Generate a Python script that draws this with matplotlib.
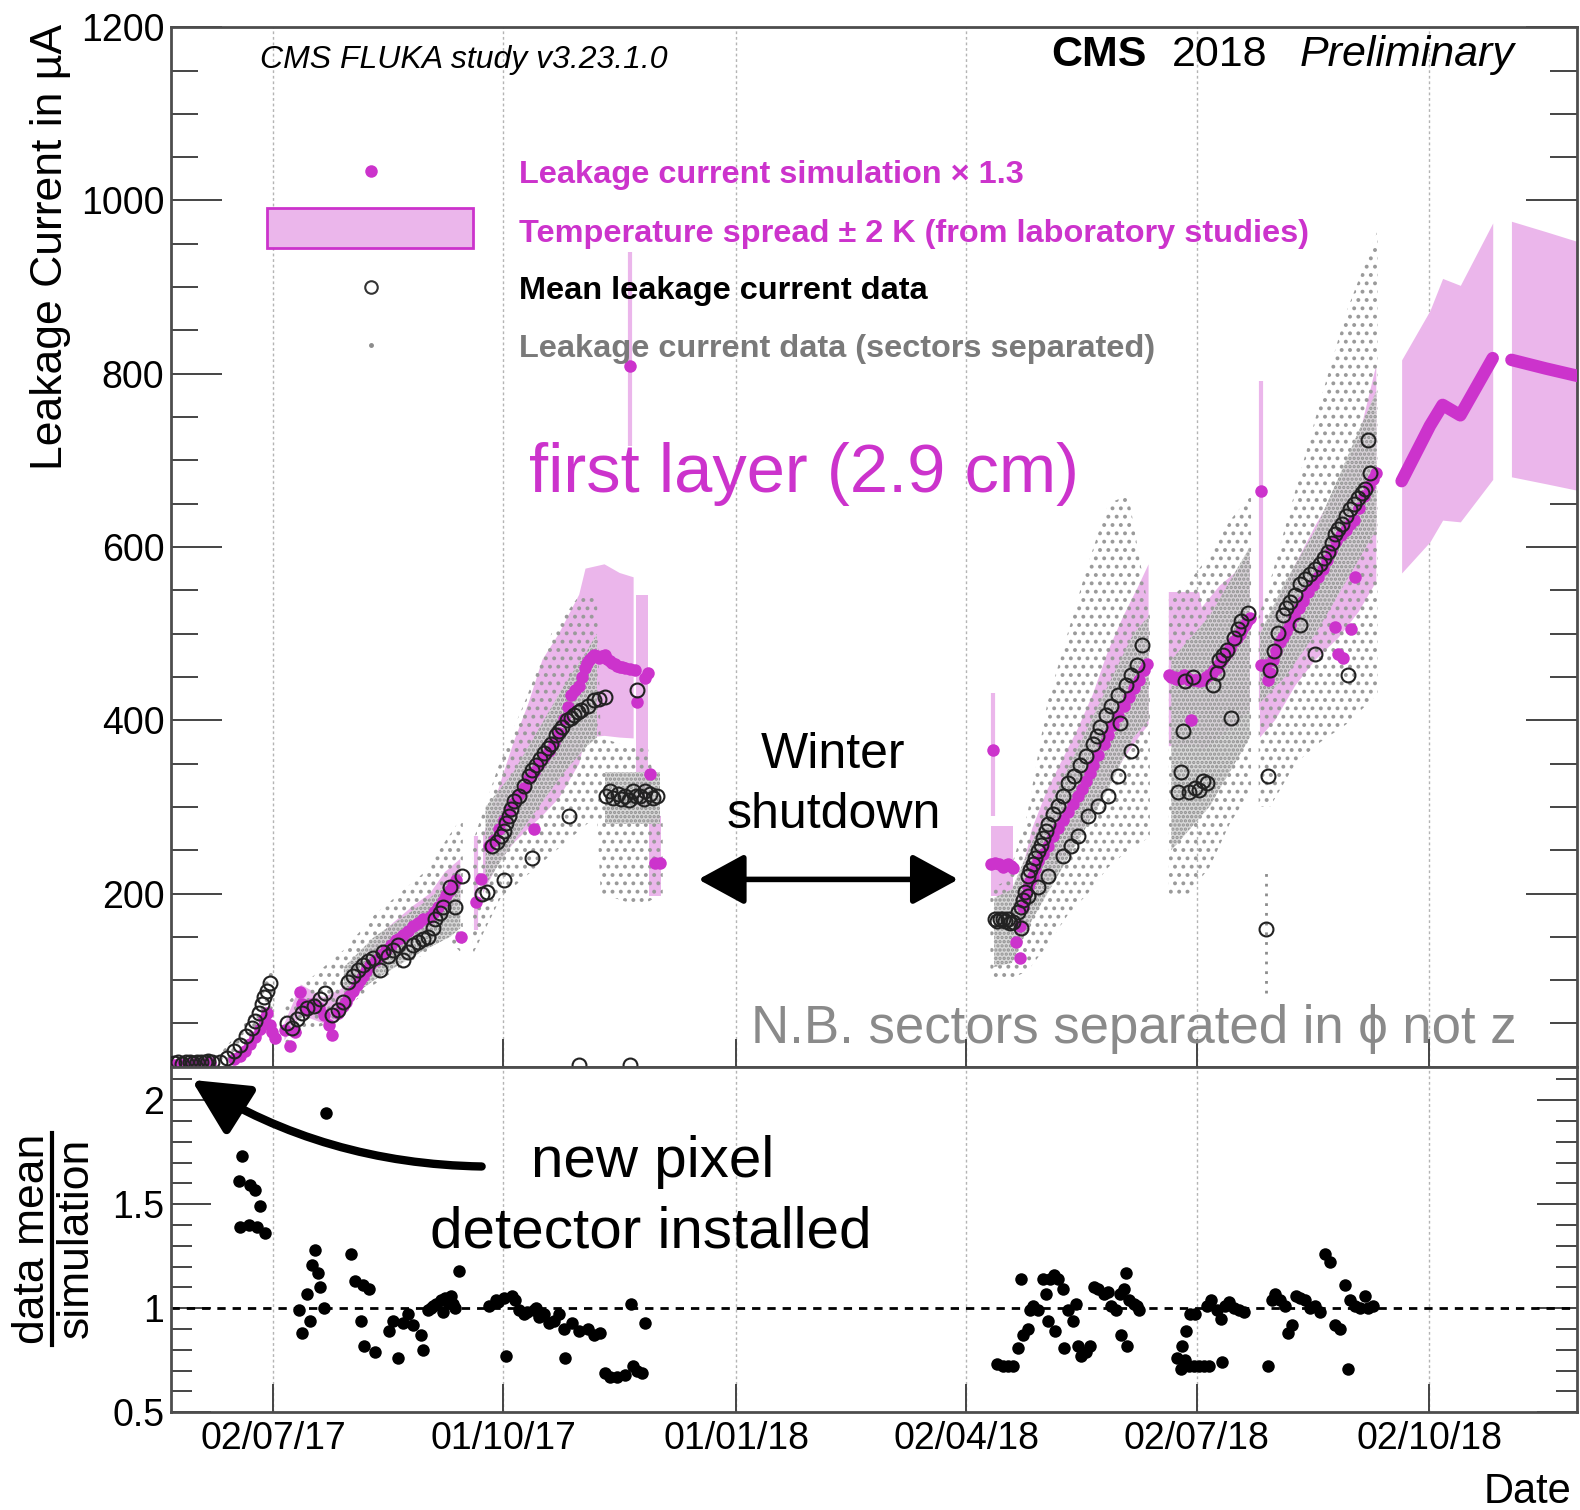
import numpy as np
import matplotlib
matplotlib.use("Agg")
import matplotlib.pyplot as plt
import matplotlib.dates as mdates
from matplotlib.ticker import MultipleLocator, FixedLocator
from matplotlib.patches import FancyArrowPatch, Rectangle
from matplotlib.lines import Line2D

plt.rcParams['font.family'] = ['Liberation Sans', 'DejaVu Sans']
plt.rcParams['hatch.linewidth'] = 1.6

MAGENTA = '#cc33cc'
PINK = '#ebb6eb'
GREY = '#8c8c8c'
nan = np.nan

# all x values are days after 02/07/2017
T0 = mdates.date2num(np.datetime64('2017-07-02'))
X_MIN, X_MAX = -40.2, 515.3
tick_dates = ['2017-07-02', '2017-10-01', '2018-01-01', '2018-04-02', '2018-07-02', '2018-10-02']

# simulation x 1.3 (magenta dots)
sim_days = [-39, -37, -35, -33, -31, -29, -27, -25,
            -15.5, -13, -11, -9, -7, -5.2, -3.6, -2.4, -1.2, -0.4, 0.8,
            4.8, 6.8, 8.8, 10.8, 11.5, 13.5, 15.5, 18, 20, 22.3, 23.5, 25.5, 27.5,
            28.7, 30, 31.5, 33, 34.2, 35.5, 36.6, 38.5, 40.6, 42.6, 44.6, 46.6, 48.6, 50, 51.4,
            53.4, 55.4, 57.3, 59.3, 62.1, 63.7, 65.3, 67, 68.5, 70, 71.3, 72.5, 74.1, 80.4, 82,
            85.2, 87.2, 89.2, 91.2, 93.2, 95.2, 97.2, 99.2, 101.2, 103.1, 103.2, 105.1, 107.1,
            109.1, 111.1, 113.1, 115.1, 116.5, 117.9, 119.5, 121.1, 122, 123.1, 124, 125, 126,
            127, 128, 129, 130, 131, 132, 133, 134, 135, 136, 137, 138, 139, 141, 143, 143.8,
            147, 148, 148.9, 150.9, 152.9, 141,
            283.8, 285.5, 287, 288.3, 289.5, 290.3, 291.5, 292.3, 293.5, 295, 295.1, 296.3,
            297.2, 298.3, 299.3, 300.3, 301.3, 302.3, 304.3, 306.3, 308.2, 310.2, 312.2, 314.2,
            316.2, 318.2, 319.8, 321.4, 322.8, 324.2, 326.2, 328.2, 330.1, 332.1, 334.1, 336.1,
            338.1, 340.1, 342.1, 344.1, 345.3, 284.7,
            354, 355, 356, 357, 358, 359, 360, 361, 362, 362.8, 364, 365, 366, 367.5, 368.8,
            370, 371.2, 372, 373, 374, 375, 376, 377, 378, 379.5, 381, 382, 383, 384, 385, 385.9,
            390.5, 392, 393, 394, 395, 396.5, 398, 399, 400.5, 402, 403.5, 405.5, 407, 409, 411,
            413, 415, 416.5, 418, 420, 422, 424, 425.5, 427, 429, 431, 433, 434.5, 435.7,
            419.5, 426, 421, 423, 427.7, 390.3]
sim_vals = [2, 3, 2, 3, 3, 3, 3, 4,
            9, 13, 18, 26, 34, 44, 55, 62, 48, 40, 33,
            42, 24, 40, 86, 72, 65, 72, 68, 60, 48, 37, 62, 70,
            75, 82, 88, 94, 100, 105, 110, 117, 123, 129, 135, 141, 146, 149, 152,
            157, 162, 166, 170, 173, 179, 185, 191, 198, 204, 210, 216, 150, 190, 217,
            255, 262, 275, 285, 295, 305, 315, 322, 333, 274, 340, 350, 357,
            365, 375, 385, 402, 415, 429, 435, 440, 450, 460, 466, 470, 473,
            475, 474, 472, 474, 475, 471, 468, 466, 465, 463, 462, 461, 460, 459, 458, 421,
            449, 455, 338, 235, 235, 809,
            234, 235, 234, 231, 233, 234, 232, 229, 144, 125, 162, 185,
            197, 208, 214, 220, 228, 237, 246, 255, 266, 276, 285, 294,
            303, 313, 321, 330, 339, 348, 360, 373, 383, 394, 405, 417,
            427, 437, 447, 458, 465, 366,
            452, 450, 450, 448, 448, 450, 452, 449, 446, 400, 447, 446, 445, 447, 450,
            452, 455, 458, 460, 465, 470, 474, 478, 483, 490, 495, 500, 505, 510, 514, 518,
            464, 464, 447, 455, 470, 480, 490, 496, 503, 510, 520, 529, 538, 548, 556,
            565, 575, 585, 595, 607, 614, 620, 626, 631, 645, 659, 670, 678, 685,
            508, 505, 477, 472, 565, 665]

# temperature spread band
band_days = [-14, -7, -3, 1, nan,
             4.5, 11, 20, 27, 35, 45, 55, 62, 68, 74, nan,
             83, 89, 95, 101, 106.5, 113, 121, 123.5, 131, 137, 142.5, nan,
             143.5, 148, nan, 148.5, 153.5, nan, 283.8, 292.5, nan,
             293, 300, 306, 312, 318, 324, 330, 336, 342, 346, nan,
             354, 366, 367, 374, 380, 386, nan,
             390, 396, 404, 412, 421, 429, 436]
band_lo = [8, 25, 40, 25, nan,
           30, 60, 50, 55, 90, 120, 145, 155, 175, 190, nan,
           200, 235, 258, 275, 290, 310, 350, 380, 382, 380, 379, nan,
           300, 300, nan, 197, 197, nan, 197, 197, nan,
           125, 185, 215, 240, 265, 295, 325, 355, 380, 395, nan,
           370, 372, 365, 380, 395, 410, nan,
           380, 400, 440, 470, 495, 525, 560]
band_hi = [16, 40, 70, 40, nan,
           50, 95, 80, 90, 125, 160, 185, 200, 225, 240, nan,
           266, 320, 374, 420, 470, 500, 545, 575, 580, 570, 565, nan,
           545, 545, nan, 290, 290, nan, 278, 278, nan,
           190, 275, 320, 355, 390, 430, 480, 520, 555, 580, nan,
           548, 548, 530, 555, 570, 590, nan,
           480, 530, 580, 625, 670, 725, 810]
spike_days = [80.4, 141, 284.7, 390.3]
spike_lo = [158, 717, 290, 412]
spike_hi = [266, 940, 431, 792]

# prediction after the data
pred1_days = [446.0, 457.2, 462.2, 469.2, 482.0]
pred1_vals = [676, 740, 764, 752, 818]
pred1_lo = [570, 606, 631, 629, 678]
pred1_hi = [816, 873, 910, 902, 974]
pred2_days = [489.4, 503.0, 516.2]
pred2_vals = [816, 806, 797]
pred2_lo = [681, 673, 665]
pred2_hi = [976, 964, 952]

# mean leakage current data (open circles)
mean_days = [-39, -37.5, -36, -34.5, -33, -31.5, -30, -28.5, -27, -25.5, -24,
             -21, -18, -15.5, -13, -10.5, -8.5, -7, -5.5, -4.4, -3.5, -2.4, -1.2,
             5.6, 7.6, 9.6, 11.5, 13.5, 16, 18.7, 20.7, 23.5, 25.5, 27.5,
             29.5, 31.5, 33.5, 35.4, 37.4, 39.4, 42.2, 43.4, 45.5, 47.4, 49.4, 51.4, 53.4,
             55.5, 57.3, 59.3, 61.3, 63.3, 64.1, 66, 67.3, 70.1, 72.1, 74.5,
             82.4, 84.4, 86.4, 88.4, 90, 91.2, 92.2, 93.2, 94.2, 95.2, 97.2, 99.2, 101.2, 102.5,
             103.9, 105.5, 107.1, 108.5, 109.9, 111.9, 113, 114.3, 116.3, 117.8, 119.1, 120.5,
             121.9, 124.3, 127, 129, 131, 143.8, 91.2, 102.3, 117.1,
             131.5, 133, 134.5, 136.2, 137.5, 139, 140.5, 142.2, 143.5, 145, 146.5, 147, 148.9,
             150.3, 151.7, 121.1, 141,
             285.5, 286.3, 287.3, 288.3, 289.3, 290.3, 291.3, 292.3, 294.3, 295.5, 296.2, 297.1,
             298.3, 299.3, 300.3, 301.3, 302.3, 303.3, 304.3, 305.3, 306.3, 308.2, 310.2, 312.2,
             314.2, 316.6, 319, 321.4, 324.2, 325.6, 327, 329.3, 331.3, 334.1, 336.9, 338.9,
             341.3, 343.3,
             295.5, 298.3, 302.3, 306.3, 312.2, 315.4, 318.2, 322.2, 326.2, 330.1, 334.1, 338.9, 334.9,
             357.6, 359, 359.5, 360.4, 362, 363.5, 364.5, 366, 367.5, 369.2, 371.6, 373, 374,
             375.5, 377.1, 378.7, 379.9, 381.3, 382.7, 385.1,
             392.3, 393.1, 393.9, 395.5, 397.1, 399.1, 400.5, 401.8, 403.8, 405.8, 407.8, 409.8,
             411.8, 413.8, 415.5, 417, 418.5, 419.8, 421, 422.5, 424, 425.7, 427.3, 428.9, 430.3,
             431.7, 433.7, 432.9, 405.8, 411.8, 424.9]
mean_vals = [4, 5, 3, 5, 6, 4, 5, 6, 5, 7, 6,
             5, 10, 18, 25, 35, 45, 53, 62, 72, 80, 88, 97,
             50, 45, 55, 62, 68, 70, 78, 85, 60, 65, 75,
             98, 105, 112, 117, 122, 125, 112, 133, 128, 135, 141, 123, 133,
             140, 144, 147, 150, 160, 171, 178, 185, 208, 185, 220,
             199, 202, 255, 260, 266, 272, 281, 290, 298, 307, 313, 324, 336, 342,
             348, 355, 362, 368, 373, 383, 388, 392, 400, 403, 406, 409,
             412, 417, 423, 425, 427, 435, 216, 241, 290,
             313, 318, 310, 315, 309, 313, 308, 318, 312, 313, 309, 318, 315,
             310, 313, 2, 2,
             170, 168, 171, 170, 168, 170, 166, 167, 179, 185, 193, 202,
             220, 227, 234, 241, 249, 256, 264, 272, 280, 292, 301, 313,
             327, 336, 348, 359, 373, 382, 392, 406, 417, 429, 441, 452,
             464, 487,
             160, 197, 208, 220, 243, 255, 266, 290, 301, 313, 336, 365, 397,
             317, 340, 388, 445, 317, 450, 322, 320, 330, 327, 441, 455, 470,
             475, 481, 403, 495, 505, 515, 524,
             159, 336, 458, 480, 501, 522, 530, 536, 545, 557, 563, 569,
             575, 580, 587, 594, 605, 615, 621, 627, 636, 644, 650, 656, 662,
             667, 685, 723, 510, 476, 452]

# sector-separated data: overall spread and dense core
gray_days = [-40, -22, -14, -8, -3, 0.5, nan,
             4.5, 12, 22, 28, 40, 50, 60, 68, 75, nan,
             79, 90, 100, 110, 120, 128, 129.5, 140, 148, 154, nan,
             283.5, 290, 298, 306, 314, 322, 330, 338, 346.5, nan,
             354, 362, 370, 378, 386.5, nan,
             389.5, 394, 404, 414, 424, 436.5]
gray_lo = [0, 0, 12, 30, 55, 70, nan,
           25, 40, 50, 65, 95, 115, 130, 150, 130, nan,
           130, 195, 220, 245, 270, 290, 200, 190, 190, 200, nan,
           100, 100, 110, 140, 175, 200, 230, 250, 265, nan,
           195, 200, 230, 280, 320, nan,
           300, 300, 350, 375, 395, 430]
gray_hi = [8, 12, 38, 65, 100, 120, nan,
           70, 95, 120, 135, 175, 200, 225, 260, 290, nan,
           260, 355, 425, 500, 540, 545, 380, 370, 370, 280, nan,
           205, 215, 290, 420, 500, 580, 650, 660, 520, nan,
           540, 560, 590, 630, 660, nan,
           520, 560, 665, 770, 870, 965]
core_days = [28, 40, 50, 60, 70, 74, nan,
             84, 95, 105, 115, 124, 128, nan, 131, 153, nan,
             285, 292, 300, 310, 320, 330, 340, 346, nan,
             355, 370, 386, nan, 390, 400, 412, 424, 436]
core_lo = [75, 100, 118, 135, 150, 160, nan,
           210, 260, 300, 340, 370, 380, nan, 280, 280, nan,
           115, 120, 170, 220, 270, 320, 380, 400, nan,
           250, 300, 380, nan, 420, 450, 500, 560, 620]
core_hi = [115, 150, 170, 190, 215, 230, nan,
           300, 340, 390, 440, 480, 500, nan, 340, 340, nan,
           195, 205, 260, 320, 380, 440, 500, 520, nan,
           470, 520, 600, nan, 500, 560, 620, 700, 780]
gray_line_days = [392.3]
gray_line_lo = [85]
gray_line_hi = [230]

# data mean / simulation
ratio_days = [-13.9, -12.3, -13.5, -9.2, -7.2, -5.2, -13.1, -9.6, -6.4, -3.2,
              21.1, 10.4, 11.5, 13.5, 15.5, 16.7, 17.9, 18.7, 20.3, 14.7,
              30.7, 32.3, 35.4, 37.8, 34.6, 35.8, 40.2, 45.8, 47.4, 49.4, 51.4, 53.4, 55.4,
              58.5, 59.3, 61.3, 63.3, 66.5, 69.3, 72.1, 73.3, 70.5, 67.3,
              85.2, 88.0, 91.2, 94.4, 97.2, 92.0, 99.2, 103.1, 105.1, 107.1, 109.1, 111.1,
              113.1, 115.1, 115.5, 118.3, 121.1, 124.3, 127.0, 129.4, 131.0, 133.0, 135.8,
              139.0, 141.4, 142.2, 143.8, 145.8, 147.0,
              62.5, 64.5, 68, 71, 89, 95.5, 100.5, 104,
              286.3, 288.3, 290.3, 292.3, 294.3, 295.5, 296.3, 298.3, 299.1, 300.3, 302.3,
              304.3, 305.5, 307.0, 308.6, 310.2, 312.2, 312.6, 306.3, 309.0, 314.2, 316.2,
              317.4, 318.2, 319.4, 321.4, 323.0, 324.6, 326.2, 328.2, 330.1, 331.3, 333.3,
              334.9, 336.1, 336.9, 338.1, 340.1, 341.3, 335.3, 337.3, 342.1,
              357.2, 358.8, 360.4, 362.0, 364.0, 366.0, 368.0, 370.0, 359.2, 360.8, 362.4,
              364.4, 369.2, 370.8, 373.2, 374.8, 376.4, 377.9, 379.9, 381.9, 383.9, 375.2,
              393.1, 394.7, 395.9, 397.9, 399.9, 401.0, 402.6, 404.2, 405.8, 407.8, 409.8,
              411.8, 413.8, 415.8, 417.8, 419.8, 421.7, 423.7, 425.7, 424.9, 427.7, 429.7,
              431.7, 432.9, 434.5]
ratio_vals = [2.02, 1.73, 1.61, 1.59, 1.57, 1.49, 1.39, 1.40, 1.39, 1.36,
              1.94, 0.99, 0.88, 1.07, 1.21, 1.28, 1.17, 1.10, 1.00, 0.94,
              1.26, 1.13, 1.11, 1.09, 0.94, 0.82, 0.79, 0.89, 0.94, 0.76, 0.93, 0.97, 0.92,
              0.87, 0.80, 0.99, 1.01, 1.04, 1.03, 1.00, 1.18, 1.06, 0.98,
              1.01, 1.04, 1.05, 1.06, 0.99, 0.77, 0.97, 0.99, 0.96, 0.97, 0.93, 0.94,
              0.97, 0.90, 0.76, 0.93, 0.89, 0.90, 0.87, 0.88, 0.69, 0.67, 0.67,
              0.68, 1.02, 0.72, 0.70, 0.69, 0.93,
              1.00, 1.02, 1.05, 1.02, 1.03, 1.04, 0.98, 1.00,
              0.73, 0.72, 0.72, 0.72, 0.81, 1.14, 0.87, 0.90, 0.99, 1.01, 0.99,
              1.14, 1.07, 1.14, 1.16, 1.14, 1.09, 0.81, 0.94, 0.89, 0.99, 0.94,
              1.02, 0.82, 0.77, 0.79, 0.82, 1.10, 1.09, 1.07, 1.08, 1.01, 0.99,
              1.07, 1.09, 1.17, 1.04, 1.02, 1.01, 0.87, 0.82, 0.99,
              0.76, 0.71, 0.75, 0.72, 0.72, 0.72, 0.72, 0.72, 0.82, 0.89, 0.97,
              0.97, 1.01, 1.04, 0.99, 0.95, 1.01, 1.03, 1.00, 0.99, 0.98, 0.74,
              0.72, 1.04, 1.07, 1.04, 1.01, 0.88, 0.92, 1.06, 1.05, 1.04, 1.00,
              1.01, 0.98, 1.26, 1.22, 0.92, 0.90, 1.11, 1.04, 0.71, 1.01, 1.00,
              1.06, 1.00, 1.01]


def xd(days):
    return T0 + np.asarray(days, dtype=float)


W0, H0 = 1568.0, 1499.0


def F(x, y):
    # position measured on the reference picture -> figure fraction
    return (x / W0, 1 - y / H0)


fig = plt.figure(figsize=(15.8, 15.1), dpi=100)
L, R, T, M, B = 170 / W0, 1565 / W0, 27 / H0, 1059 / H0, 1402 / H0
ax = fig.add_axes([L, 1 - M, R - L, M - T])
axr = fig.add_axes([L, 1 - B, R - L, B - M])

# ---- top panel
ax.fill_between(xd(band_days), band_lo, band_hi, color=PINK, lw=0, zorder=1)
ax.fill_between(xd(pred1_days), pred1_lo, pred1_hi, color=PINK, lw=0, zorder=1)
ax.fill_between(xd(pred2_days), pred2_lo, pred2_hi, color=PINK, lw=0, zorder=1)
ax.vlines(xd(spike_days), spike_lo, spike_hi, color=PINK, lw=3, zorder=1)
ax.fill_between(xd(gray_days), gray_lo, gray_hi, facecolor='none', edgecolor='#9a9a9a',
                hatch='..', lw=0, zorder=2)
ax.fill_between(xd(core_days), core_lo, core_hi, facecolor='#d4d4d4', edgecolor='#8a8a8a',
                hatch='....', lw=0, alpha=0.9, zorder=2)
ax.vlines(xd(gray_line_days), gray_line_lo, gray_line_hi, color=GREY, lw=2,
          linestyles=(0, (1, 2.5)), zorder=2)
ax.plot(xd(sim_days), sim_vals, 'o', color=MAGENTA, ms=9, mec='none', zorder=3)
ax.plot(xd(pred1_days), pred1_vals, color=MAGENTA, lw=9, solid_capstyle='round', zorder=3)
ax.plot(xd(pred2_days), pred2_vals, color=MAGENTA, lw=9, solid_capstyle='round', zorder=3)
ax.plot(xd(mean_days), mean_vals, 'o', mfc='none', mec='#222222', ms=10, mew=1.5, zorder=4)

ax.set_ylim(0, 1200)
ax.set_yticks(np.arange(200, 1201, 200))
ax.yaxis.set_minor_locator(MultipleLocator(50))

# ---- ratio panel
axr.axhline(1, color='black', lw=2, ls=(0, (3, 2.5)), zorder=1)
axr.plot(xd(ratio_days), ratio_vals, 'o', color='black', ms=9, mec='none', zorder=3)
axr.set_ylim(0.5, 2.16)
axr.set_yticks([0.5, 1, 1.5, 2])
axr.set_yticklabels(['0.5', '1', '1.5', '2'])
axr.yaxis.set_minor_locator(MultipleLocator(0.1))

ticks = [mdates.date2num(np.datetime64(d)) for d in tick_dates]
for a in (ax, axr):
    a.set_xlim(T0 + X_MIN, T0 + X_MAX)
    a.xaxis.set_major_locator(FixedLocator(ticks))
    a.xaxis.set_major_formatter(mdates.DateFormatter('%d/%m/%y'))
    a.set_axisbelow(True)
    a.grid(axis='x', color='#b4b4b4', lw=1, ls=(0, (2, 2)))
    for s in a.spines.values():
        s.set_color('#4d4d4d')
        s.set_linewidth(2)
    a.tick_params(axis='x', which='major', direction='in', length=20, width=1.4,
                  color='#444444', labelsize=27, pad=6)
    a.tick_params(axis='y', which='both', direction='in', left=True, right=True,
                  width=1.4, color='#444444', labelsize=27, pad=5)

ax.tick_params(axis='x', labelbottom=False)
ax.tick_params(axis='y', which='major', length=37)
ax.tick_params(axis='y', which='minor', length=19.5)
axr.tick_params(axis='y', which='major', length=29)
axr.tick_params(axis='y', which='minor', length=15)

# ---- titles and labels
fig.text(*F(50, 245), 'Leakage Current in µA', rotation=90, ha='center', va='center', fontsize=32)
fig.text(*F(32, 1230), 'data mean', rotation=90, ha='center', va='center', fontsize=32)
fig.text(*F(76, 1229), 'simulation', rotation=90, ha='center', va='center', fontsize=32)
fig.add_artist(Line2D([52 / W0, 52 / W0], [1 - 1125 / H0, 1 - 1335 / H0],
                      transform=fig.transFigure, color='black', lw=3))
fig.text(*F(1559, 1492), 'Date', ha='right', va='baseline', fontsize=30)

fig.text(*F(258, 68), 'CMS FLUKA study v3.23.1.0', style='italic', fontsize=23, va='baseline')
fig.text(*F(1043, 66), 'CMS', fontweight='bold', fontsize=31, va='baseline')
fig.text(*F(1163, 66), '2018', fontsize=31, va='baseline')
fig.text(*F(1290, 66), 'Preliminary', style='italic', fontsize=31, va='baseline')

# legend
fig.add_artist(Line2D([368 / W0], [1 - 170 / H0], transform=fig.transFigure, marker='o',
                      ls='none', color=MAGENTA, ms=9, mec='none'))
fig.add_artist(Rectangle(F(265, 246), (469 - 265) / W0, (246 - 206) / H0,
                         transform=fig.transFigure, facecolor=PINK, edgecolor=MAGENTA, lw=2))
fig.add_artist(Line2D([368 / W0], [1 - 285 / H0], transform=fig.transFigure, marker='o',
                      ls='none', mfc='none', mec='#333333', ms=9, mew=1.5))
fig.add_artist(Line2D([368 / W0], [1 - 342 / H0], transform=fig.transFigure, marker='o',
                      ls='none', color=GREY, ms=2.5))
leg_rows = [('Leakage current simulation × 1.3', MAGENTA, 182),
            ('Temperature spread ± 2 K (from laboratory studies)', MAGENTA, 240),
            ('Mean leakage current data', 'black', 297),
            ('Leakage current data (sectors separated)', '#7a7a7a', 354)]
for txt, col, yy in leg_rows:
    fig.text(*F(515, yy), txt, color=col, fontsize=23.4, fontweight='bold', va='baseline')

# annotations
fig.text(*F(525, 488), 'first layer (2.9 cm)', color=MAGENTA, fontsize=49.5, va='baseline')
fig.text(*F(827, 762), 'Winter', fontsize=36, ha='center', va='baseline')
fig.text(*F(827, 822), 'shutdown', fontsize=36, ha='center', va='baseline')
fig.text(*F(745, 1035), 'N.B. sectors separated in ϕ not z', color='#8a8a8a', fontsize=38,
         va='baseline')
fig.text(*F(648, 1168), 'new pixel', fontsize=42, ha='center', va='baseline')
fig.text(*F(646, 1238), 'detector installed', fontsize=42, ha='center', va='baseline')

fig.add_artist(FancyArrowPatch(F(693, 873), F(951, 873), transform=fig.transFigure,
                               arrowstyle='<|-|>,head_length=1.1,head_width=0.6',
                               mutation_scale=26, lw=4, color='black',
                               shrinkA=0, shrinkB=0))
fig.add_artist(FancyArrowPatch(F(478, 1158), F(190, 1072), transform=fig.transFigure,
                               connectionstyle='arc3,rad=-0.14',
                               arrowstyle='-|>,head_length=1.0,head_width=0.5',
                               mutation_scale=34, lw=6, color='black',
                               shrinkA=0, shrinkB=0))

fig.savefig('out.png', dpi=100)
